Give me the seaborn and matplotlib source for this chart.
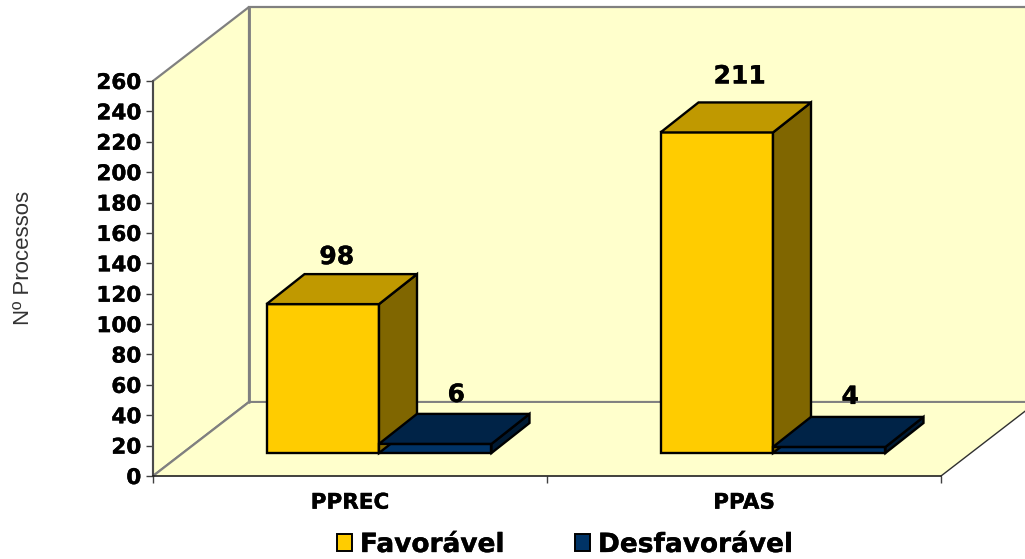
"""
3D look column chart: Favoravel / Desfavoravel by process type
"""

import pandas as pd
import matplotlib.pyplot as plt
import matplotlib.patheffects as pe
import seaborn as sns
from matplotlib.patches import Polygon, Patch

# Data
categories = ['PPREC', 'PPAS']
favoravel = [98, 211]
desfavoravel = [6, 4]
y_ticks = list(range(0, 261, 20))

df = pd.DataFrame({
    'tipo': categories * 2,
    'parecer': ['Favorável'] * 2 + ['Desfavorável'] * 2,
    'n': favoravel + desfavoravel,
})

# Colours: front, top and side of each series
YELLOW = ('#FFCC00', '#C09900', '#806600')
BLUE = ('#003366', '#002347', '#001A33')
WALL = '#FFFFCC'
GRAY = '#808080'

# Pixel geometry of the reference
W, H = 1025, 559
PX_LEFT, PX_RIGHT = 153, 941
PX_TOP, PX_BOTTOM = 81, 476
PX_X = (PX_RIGHT - PX_LEFT) / 2       # one category in px
PX_Y = (PX_BOTTOM - PX_TOP) / 260     # one unit in px

# the reference text is a bit heavier than plain DejaVu bold
HEAVY = [pe.withStroke(linewidth=0.25, foreground='black')]

sns.set_theme(style='white')
plt.rcParams['font.family'] = ['DejaVu Sans']

fig = plt.figure(figsize=(W / 100, H / 100), dpi=100)
ax = fig.add_axes([PX_LEFT / W, 1 - PX_BOTTOM / H, (PX_RIGHT - PX_LEFT) / W, (PX_BOTTOM - PX_TOP) / H])
ax.set_xlim(0, 2)
ax.set_ylim(0, 260)
ax.patch.set_visible(False)

# Walls and floor
wx, wy = 96 / PX_X, 74 / PX_Y
floor = [(0, 0), (2, 0), (2 + wx, wy), (wx, wy)]
side = [(0, 0), (wx, wy), (wx, 260 + wy), (0, 260)]
back = [(wx, wy), (2 + wx, wy), (2 + wx, 260 + wy), (wx, 260 + wy)]
ax.add_patch(Polygon(back, fc=WALL, ec=GRAY, lw=1.6, clip_on=False, zorder=1))
ax.add_patch(Polygon(side, fc=WALL, ec=GRAY, lw=1.6, clip_on=False, zorder=1))
ax.add_patch(Polygon(floor, fc=WALL, ec='none', clip_on=False, zorder=1.1))
ax.plot([wx, 2 + wx], [wy, wy], color=GRAY, lw=1.4, clip_on=False, zorder=1.2)
ax.plot([wx, wx], [wy, 260 + wy], color=GRAY, lw=2, clip_on=False, zorder=1.2)
ax.plot([0, wx], [0, wy], color=GRAY, lw=1.6, clip_on=False, zorder=1.2)
ax.plot([2, 2 + wx], [0, wy], color='#303030', lw=1, clip_on=False, zorder=1.2)

# Axis cosmetics
for s in ['top', 'right']:
    ax.spines[s].set_visible(False)
ax.spines['left'].set_color('#404040')
ax.spines['left'].set_linewidth(1.2)
ax.spines['bottom'].set_color('#202020')
ax.spines['bottom'].set_linewidth(1.2)
ax.spines['left'].set_zorder(3)
ax.spines['bottom'].set_zorder(3)
ax.set_yticks(y_ticks)
ax.set_yticklabels([str(t) for t in y_ticks], fontsize=15.5, fontweight='bold', color='black',
                   path_effects=HEAVY)
ax.set_xticks([0, 1, 2])
ax.set_xticklabels([])
ax.set_xticks([0.5, 1.5], minor=True)
ax.set_xticklabels(categories, minor=True, fontsize=15.5, fontweight='bold', color='black',
                   path_effects=HEAVY)
ax.tick_params(axis='x', which='major', bottom=True, length=5, width=1, color='#404040')
ax.tick_params(axis='x', which='minor', bottom=False, pad=8)
ax.tick_params(axis='y', left=True, length=5, width=1, color='#404040', pad=3.5)
fig.text(24 / W, 1 - 258 / H, 'Nº Processos', rotation=90, ha='center', va='center',
         fontsize=16, family='Liberation Sans', color='#333333')

# Bars live on an overlay axes, pushed into the depth of the floor
ax_bars = fig.add_axes([(PX_LEFT + 29) / W, 1 - (PX_BOTTOM - 23) / H,
                        (PX_RIGHT - PX_LEFT) / W, (PX_BOTTOM - PX_TOP) / H])
ax_bars.patch.set_visible(False)
sns.barplot(data=df, x='tipo', y='n', hue='parecer', order=categories,
            hue_order=['Favorável', 'Desfavorável'],
            palette=[YELLOW[0], BLUE[0]], width=0.571, gap=0, saturation=1,
            edgecolor='black', linewidth=1.7, legend=False, ax=ax_bars, zorder=3)
ax_bars.set_xlim(-0.5, 1.5)
ax_bars.set_ylim(0, 260)
ax_bars.axis('off')

# Top and side faces taken from the bars seaborn has drawn
dx, dy = 38 / PX_X, 30 / PX_Y
shades = [YELLOW, YELLOW, BLUE, BLUE]
for bar, colours in zip(ax_bars.patches, shades):
    x0, x1 = bar.get_x(), bar.get_x() + bar.get_width()
    top = bar.get_height()
    ax_bars.add_patch(Polygon([(x1, 0), (x1 + dx, dy), (x1 + dx, top + dy), (x1, top)],
                              fc=colours[2], ec='black', lw=1.7, clip_on=False, zorder=3))
    ax_bars.add_patch(Polygon([(x0, top), (x1, top), (x1 + dx, top + dy), (x0 + dx, top + dy)],
                              fc=colours[1], ec='black', lw=1.7, clip_on=False, zorder=3))
    bar.set_clip_on(False)

# Value labels, offsets in px from the top centre of the front face
label_offsets = [(14, 47), (23, 56), (21, 49), (21, 50)]
values = favoravel + desfavoravel
for bar, val, (ox, oy) in zip(ax_bars.patches, values, label_offsets):
    ax_bars.annotate(str(val), (bar.get_x() + bar.get_width() / 2, bar.get_height()),
                     xytext=(ox * 0.72, oy * 0.72), textcoords='offset points',
                     ha='center', va='center', fontsize=18, fontweight='bold',
                     color='black', annotation_clip=False, zorder=5, path_effects=HEAVY)

# Legend
handles = [Patch(fc=YELLOW[0], ec='black', lw=1.4, label='Favorável'),
           Patch(fc=BLUE[0], ec='black', lw=1.4, label='Desfavorável')]
leg = fig.legend(handles=handles, loc='center', bbox_to_anchor=(565 / W, 1 - 545 / H), ncol=2,
                 frameon=False, prop={'size': 19, 'weight': 'bold'}, handlelength=0.58,
                 handleheight=0.58, handletextpad=0.3, columnspacing=2.65, borderpad=0, labelcolor='black')
for t in leg.get_texts():
    t.set_path_effects(HEAVY)

fig.savefig('out.png', dpi=100)
plt.close()
